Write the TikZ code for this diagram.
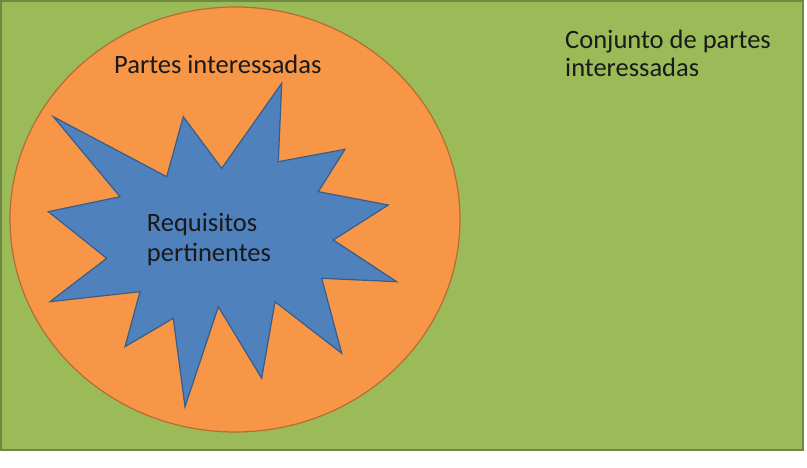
\documentclass[tikz,border=0pt]{standalone}
\usepackage{fontspec}
\setmainfont{Carlito}

\definecolor{setgreen}{RGB}{155,187,89}
\definecolor{setgreenline}{RGB}{113,137,63}
\definecolor{partorange}{RGB}{247,150,70}
\definecolor{partorangeline}{RGB}{182,109,49}
\definecolor{reqblue}{RGB}{79,129,189}
\definecolor{reqblueline}{RGB}{56,93,138}

\begin{document}
\begin{tikzpicture}[x=1pt, y=-1pt,
  every node/.style={font=\fontsize{26.5}{29}\selectfont, inner sep=0pt, text=black!90}]
  \useasboundingbox (0,0) rectangle (807,468);

  % Set of interested parties
  \draw[setgreenline, fill=setgreen, line width=2pt] (1,1) rectangle (803,450);

  % Interested parties
  \draw[partorangeline, fill=partorange, line width=1.2pt] (235,219.5) ellipse [x radius=225, y radius=212.5];

  % Relevant requirements
  \draw[reqblueline, fill=reqblue, line width=1.2pt, line join=miter]
    (281.7,83.3) -- (278.3,161.7) -- (345,149.3) -- (318.3,191.7)
    -- (388.3,205) -- (333.3,240) -- (396.7,281.7) -- (321.7,278.3)
    -- (341.7,353.3) -- (275,301.7) -- (261.7,378.3) -- (218.3,306.7)
    -- (185,406.7) -- (173.3,318.3) -- (125,346.7) -- (140,291.7)
    -- (50,301.7) -- (106.7,258.3) -- (48.3,211.7) -- (120,196.7)
    -- (53.3,116.7) -- (166.7,176.7) -- (183.3,116.7) -- (221.7,168.3) -- cycle;

  % Labels
  \node[anchor=base west] (conjunto) at (565,48.5) {Conjunto de partes};
  \node[anchor=base west] (conjunto2) at (565,77) {interessadas};
  \node[anchor=base west] (partes) at (114,73.3) {Partes interessadas};
  \node[anchor=base west] (requisitos) at (146.7,231.7) {Requisitos};
  \node[anchor=base west] (pertinentes) at (146.7,261.7) {pertinentes};
\end{tikzpicture}
\end{document}
